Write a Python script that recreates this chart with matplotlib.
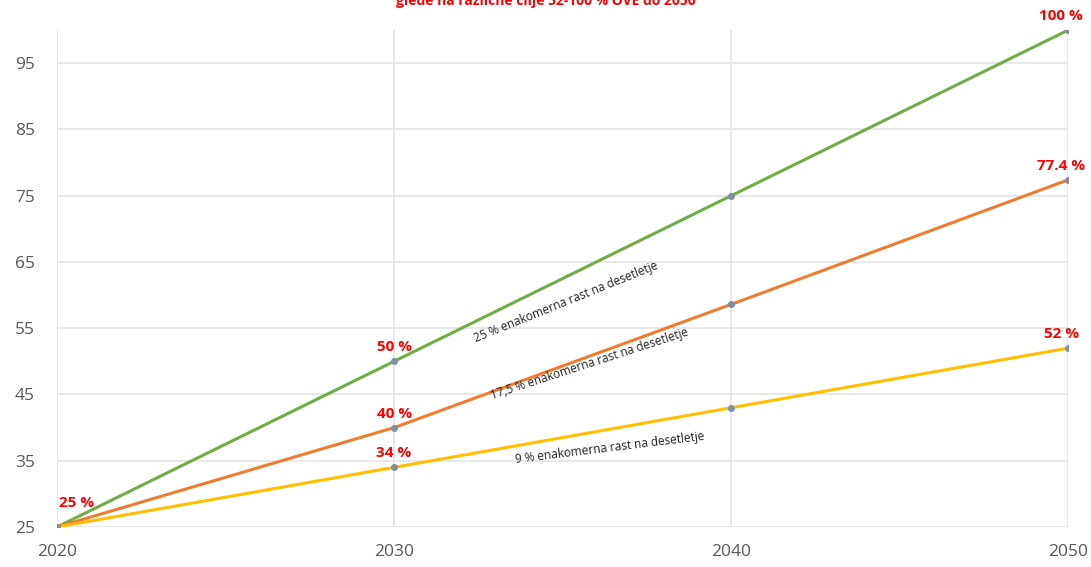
import matplotlib
matplotlib.use("Agg")
import matplotlib.pyplot as plt

years = [2020, 2030, 2040, 2050]
green = [25, 50, 75, 100]
orange = [25, 40, 58.6, 77.4]
yellow = [25, 34, 43, 52]

green_labels = {2030: "50 %", 2050: "100 %"}
orange_labels = {2030: "40 %", 2050: "77.4 %"}
yellow_labels = {2030: "34 %", 2050: "52 %"}

y_ticks = [25, 35, 45, 55, 65, 75, 85, 95]
title = "glede na različne cilje 52-100 % OVE do 2050"

plt.rcParams['font.family'] = ['Open Sans', 'DejaVu Sans']

fig = plt.figure(figsize=(10.91, 5.67), dpi=100)
ax = fig.add_axes([0.0522, 0.0705, 0.927, 0.8765])

ax.plot(years, green, color='#70ad47', lw=2.2, zorder=3)
ax.plot(years, orange, color='#ed7d31', lw=2.2, zorder=3)
ax.plot(years, yellow, color='#ffc000', lw=2.2, zorder=3)
for s in (green, orange, yellow):
    ax.plot(years, s, 'o', ms=4, color='#7f8ea6', zorder=4)

ax.set_xlim(2020, 2050)
ax.set_ylim(25, 100)
ax.set_xticks(years)
ax.set_yticks(y_ticks)
ax.tick_params(length=0, colors='#595959', labelsize=12.5)
ax.tick_params(axis='x', pad=12)
ax.tick_params(axis='y', pad=16)
ax.grid(True, color='#e4e4e4', lw=1.2)
for sp in ax.spines.values():
    sp.set_visible(False)
ax.set_axisbelow(True)

lab = dict(color='#ff0000', fontweight='bold', fontsize=11, ha='center', va='bottom')
ax.annotate("25 %", (2020, 25), xytext=(14, 12), textcoords='offset points', **lab)
for d, s in ((green_labels, green), (orange_labels, orange), (yellow_labels, yellow)):
    for yr, t in d.items():
        v = s[years.index(yr)]
        dx = -5 if yr == 2050 else 0
        ax.annotate(t, (yr, v), xytext=(dx, 5), textcoords='offset points', **lab)

note = dict(fontsize=8.5, color='#222222', ha='center', va='center', rotation_mode='anchor')
ax.text(2035.1, 59.0, "25 % enakomerna rast na desetletje", rotation=22, **note)
ax.text(2035.8, 49.6, "17,5 % enakomerna rast na desetletje", rotation=18, **note)
ax.text(2036.4, 37.0, "9 % enakomerna rast na desetletje", rotation=7, **note)

fig.text(0.5, 0.998, title, color='#ff0000', fontweight='bold', fontsize=10,
         ha='center', va='center')

fig.savefig("out.png", dpi=100)
